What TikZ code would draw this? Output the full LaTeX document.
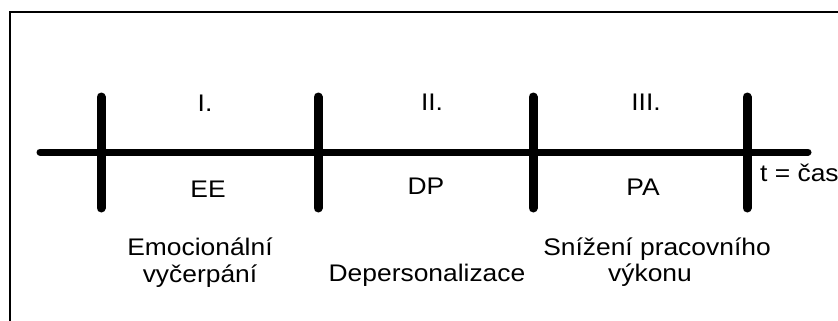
\documentclass[tikz,border=0pt]{standalone}
\usepackage{fontspec}
\setmainfont{Liberation Sans}
\newcommand{\wtxt}[1]{\scalebox{1.1}[1]{#1}}
\begin{document}
\begin{tikzpicture}[x=1pt,y=-1pt,
  lbl/.style={inner sep=0pt,font=\fontsize{24}{27}\selectfont,align=center},
  tick/.style={line width=9pt,line cap=round},
  axis/.style={line width=7pt,line cap=round}]
\useasboundingbox (0,0) rectangle (838,321);
\fill[white] (0,0) rectangle (838,321);
\draw[line width=2pt] (10,12) rectangle (900,400);
\coordinate (a0) at (40,152);
\coordinate (a1) at (808,152);
\draw[axis] (a0) -- (a1);
\foreach \n/\x in {t1/101,t2/318,t3/533,t4/747}{
  \coordinate (\n top) at (\x,97);
  \coordinate (\n bot) at (\x,208);
  \draw[tick] (\n top) -- (\n bot);
}
\node[lbl] (r1) at (205,103) {\wtxt{I.}};
\node[lbl] (r2) at (432,102) {\wtxt{II.}};
\node[lbl] (r3) at (646,102) {\wtxt{III.}};
\node[lbl] (ee) at (208,189) {\wtxt{EE}};
\node[lbl] (dp) at (426,186) {\wtxt{DP}};
\node[lbl] (pa) at (643,187) {\wtxt{PA}};
\node[lbl,anchor=base] (ee2) at (200,255) {\wtxt{Emocionální}};
\node[lbl,anchor=base] (ee3) at (200,282) {\wtxt{vyčerpání}};
\node[lbl,anchor=base] (dp2) at (427,281) {\wtxt{Depersonalizace}};
\node[lbl,anchor=base] (pa2) at (657,255) {\wtxt{Snížení pracovního}};
\node[lbl,anchor=base] (pa3) at (650,281) {\wtxt{výkonu}};
\node[lbl,anchor=base west] (t) at (760,181) {\wtxt{t = čas}};
\end{tikzpicture}
\end{document}
